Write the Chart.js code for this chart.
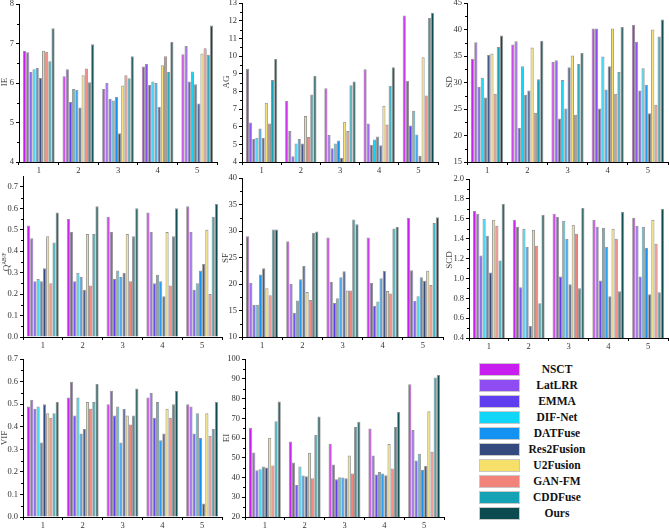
<!DOCTYPE html>
<html>
<head>
<meta charset="utf-8">
<script src="https://cdn.jsdelivr.net/npm/chart.js@4.4.0/dist/chart.umd.min.js"></script>
<style>
  body { margin: 0; background: #fff; width: 669px; height: 529px; position: relative; overflow: hidden; font-family: 'Liberation Serif', serif; }
  .panel { position: absolute; }
  .ytitle { position: absolute; width: 80px; height: 10px; line-height: 10px; text-align: center;
            font-size: 9px; color: #444; white-space: nowrap; transform: translate(-50%, -50%) rotate(-90deg); }
  .ytitle sup { font-size: 5.5px; vertical-align: 3px; }
  #legend { position: absolute; left: 479px; top: 361px; }
  .row { display: flex; align-items: center; height: 16px; }
  .sw { width: 41px; height: 13px; border: 1px solid #c8c8c8; box-sizing: border-box; }
  .lab { width: 74px; text-align: center; font-weight: bold; font-size: 11.5px; color: #111; }
</style>
</head>
<body>
<div id="legend"></div>
<script>
// methods and colours
const methods = ['NSCT', 'LatLRR', 'EMMA', 'DIF-Net', 'DATFuse', 'Res2Fusion', 'U2Fusion', 'GAN-FM', 'CDDFuse', 'Ours'];
const colors = ['#C81EF0', '#8E4CF2', '#5F3EF0', '#12D6F8', '#1492F2', '#34497E', '#F7E06A', '#F2837A', '#14A2B4', '#0B4A4E'];
const groups = ['1', '2', '3', '4', '5'];

// values per group (one row per group, one value per method)
const ieVals = [
  [6.81, 6.78, 6.28, 6.35, 6.38, 6.13, 6.82, 6.79, 6.55, 7.39],
  [6.17, 6.35, 5.52, 5.85, 5.83, 5.38, 6.20, 6.37, 6.02, 6.98],
  [5.85, 6.00, 5.60, 5.56, 5.65, 4.73, 5.94, 6.20, 6.12, 6.68],
  [6.42, 6.48, 5.95, 6.04, 6.00, 5.40, 6.45, 6.68, 6.28, 7.04],
  [6.73, 6.94, 6.04, 6.29, 5.97, 5.48, 6.75, 6.88, 6.72, 7.46]
];
const agVals = [
  [9.28, 6.24, 5.30, 5.38, 5.90, 5.37, 7.36, 6.18, 8.64, 9.84],
  [7.45, 5.75, 4.33, 5.05, 5.30, 5.05, 6.60, 5.42, 7.82, 8.87],
  [8.18, 5.53, 4.78, 5.05, 5.22, 4.24, 6.28, 5.75, 8.35, 8.56],
  [9.26, 6.18, 4.97, 5.27, 5.45, 4.95, 7.18, 6.12, 8.32, 9.37],
  [12.30, 8.60, 6.07, 6.90, 5.56, 4.35, 9.93, 7.76, 12.15, 12.45]
];
const sdVals = [
  [34.5, 37.6, 29.2, 30.9, 27.2, 35.2, 35.5, 27.9, 36.7, 38.9],
  [37.2, 37.8, 21.4, 33.1, 27.7, 28.5, 36.6, 24.3, 30.6, 37.9],
  [33.9, 34.2, 23.2, 30.5, 25.1, 32.9, 35.1, 23.9, 33.5, 35.6],
  [40.2, 40.2, 25.1, 34.9, 28.7, 33.1, 40.2, 27.9, 32.0, 40.5],
  [40.9, 37.7, 28.5, 32.7, 29.6, 24.2, 40.0, 25.8, 38.7, 41.9]
];
const qVals = [
  [0.52, 0.46, 0.26, 0.27, 0.26, 0.32, 0.47, 0.25, 0.44, 0.58],
  [0.55, 0.49, 0.26, 0.30, 0.28, 0.22, 0.48, 0.24, 0.48, 0.61],
  [0.56, 0.49, 0.27, 0.31, 0.28, 0.30, 0.48, 0.26, 0.47, 0.60],
  [0.58, 0.49, 0.25, 0.29, 0.26, 0.19, 0.49, 0.24, 0.47, 0.60],
  [0.61, 0.49, 0.22, 0.25, 0.31, 0.34, 0.50, 0.20, 0.56, 0.62]
];
const sfVals = [
  [29.0, 20.2, 16.1, 16.1, 21.8, 23.0, 19.2, 17.9, 30.3, 30.3],
  [28.1, 20.0, 14.6, 16.9, 20.9, 23.4, 18.5, 17.0, 29.7, 29.9],
  [28.8, 20.4, 16.4, 17.3, 21.3, 22.4, 18.8, 18.8, 32.2, 31.3],
  [28.8, 20.2, 15.9, 16.7, 21.1, 22.5, 18.7, 18.2, 30.5, 30.8],
  [32.5, 22.6, 16.8, 17.7, 21.3, 20.6, 22.5, 19.8, 31.5, 32.6]
];
const scdVals = [
  [1.68, 1.65, 1.23, 1.60, 1.43, 1.06, 1.59, 1.53, 1.18, 1.75],
  [1.59, 1.52, 0.91, 1.50, 1.32, 0.52, 1.49, 1.33, 0.75, 1.64],
  [1.65, 1.62, 1.02, 1.58, 1.40, 0.94, 1.54, 1.45, 0.90, 1.71],
  [1.59, 1.52, 0.98, 1.51, 1.32, 0.82, 1.50, 1.40, 0.87, 1.67],
  [1.61, 1.53, 1.02, 1.52, 1.31, 0.84, 1.59, 1.35, 0.86, 1.70]
];
const vifVals = [
  [0.49, 0.52, 0.48, 0.49, 0.33, 0.50, 0.46, 0.44, 0.46, 0.51],
  [0.53, 0.60, 0.45, 0.53, 0.37, 0.39, 0.51, 0.48, 0.51, 0.59],
  [0.50, 0.56, 0.45, 0.49, 0.33, 0.48, 0.45, 0.41, 0.45, 0.57],
  [0.53, 0.55, 0.44, 0.51, 0.34, 0.37, 0.48, 0.44, 0.50, 0.56],
  [0.50, 0.49, 0.37, 0.46, 0.35, 0.06, 0.46, 0.36, 0.39, 0.51]
];
const eiVals = [
  [65.2, 52.7, 43.7, 44.2, 45.6, 45.1, 60.1, 46.1, 68.5, 78.5],
  [58.3, 47.6, 36.2, 45.6, 41.0, 40.6, 52.6, 39.6, 61.7, 70.9],
  [57.1, 46.6, 39.1, 40.1, 40.0, 39.6, 51.1, 42.1, 65.6, 68.2],
  [64.9, 51.1, 41.5, 42.8, 42.1, 41.1, 57.0, 44.6, 65.6, 73.2],
  [87.2, 64.1, 48.6, 52.0, 43.9, 45.9, 73.6, 53.1, 90.7, 91.9]
];

// panel layout: box = plot area [left, top, right, bottom], t = title centre
const panels = [
  { title: 'IE', vals: ieVals, min: 4, max: 8, step: 1, dec: 0, box: [19, 3, 217, 162], t: [4, 82] },
  { title: 'AG', vals: agVals, min: 4, max: 13, step: 1, dec: 0, box: [242, 2, 438, 162], t: [226, 82] },
  { title: 'SD', vals: sdVals, min: 15, max: 45, step: 5, dec: 0, box: [467, 2, 668, 162], t: [449, 82] },
  { title: 'Q<sup>AB/F</sup>', vals: qVals, min: 0, max: 0.75, step: 0.1, dec: 1, box: [23, 175, 222, 337], t: [4, 262] },
  { title: 'SF', vals: sfVals, min: 10, max: 40, step: 5, dec: 0, box: [242, 177, 443, 337], t: [225, 258] },
  { title: 'SCD', vals: scdVals, min: 0.4, max: 2.0, step: 0.1, dec: 1, box: [469, 178, 668, 338], t: [449, 260] },
  { title: 'VIF', vals: vifVals, min: 0, max: 0.7, step: 0.1, dec: 1, box: [23, 358, 222, 517], t: [4, 438] },
  { title: 'EI', vals: eiVals, min: 20, max: 100, step: 10, dec: 0, box: [245, 358, 444, 517], t: [226, 438] }
];

const YW = 24, XH = 14, PT = 6, PR = 2;
const tickFont = { family: 'Liberation Serif', size: 8.5 };

// small minor ticks half way between the major ticks
const minorTicks = {
  id: 'minorTicks',
  afterDraw(chart) {
    const y = chart.scales.y;
    const t = y.ticks;
    const ctx = chart.ctx;
    ctx.save();
    ctx.strokeStyle = '#000';
    ctx.lineWidth = 1;
    for (let i = 0; i < t.length - 1; i++) {
      const py = Math.round(y.getPixelForValue((t[i].value + t[i + 1].value) / 2)) + 0.5;
      ctx.beginPath();
      ctx.moveTo(y.right - 2, py);
      ctx.lineTo(y.right, py);
      ctx.stroke();
    }
    ctx.restore();
  }
};

panels.forEach(p => {
  const [l, t, r, b] = p.box;
  const W = r - l + YW + PR, H = b - t + PT + XH;
  const div = document.createElement('div');
  div.className = 'panel';
  div.style.left = (l - YW) + 'px';
  div.style.top = (t - PT) + 'px';
  const cv = document.createElement('canvas');
  cv.width = W; cv.height = H;
  cv.style.width = W + 'px'; cv.style.height = H + 'px';
  div.appendChild(cv);
  document.body.appendChild(div);

  const tt = document.createElement('div');
  tt.className = 'ytitle';
  tt.innerHTML = p.title;
  tt.style.left = p.t[0] + 'px';
  tt.style.top = p.t[1] + 'px';
  document.body.appendChild(tt);

  new Chart(cv, {
    type: 'bar',
    data: {
      labels: groups,
      datasets: methods.map((m, i) => ({
        label: m,
        data: p.vals.map(g => g[i]),
        backgroundColor: colors[i],
        borderColor: 'rgba(120,120,120,0.8)',
        borderWidth: 1,
        categoryPercentage: 0.8,
        barPercentage: 1
      }))
    },
    options: {
      responsive: false,
      animation: false,
      events: [],
      layout: { padding: { top: PT, right: PR, left: 0, bottom: 0 } },
      plugins: { legend: { display: false }, tooltip: { enabled: false } },
      scales: {
        x: {
          offset: true,
          grid: { drawOnChartArea: false, tickLength: 3, color: '#000', offset: true },
          border: { color: '#000', width: 1 },
          ticks: { font: tickFont, color: '#333', padding: 1, maxRotation: 0 },
          afterFit: s => { s.height = XH; }
        },
        y: {
          min: p.min,
          max: p.max,
          grid: { drawOnChartArea: false, tickLength: 3, color: '#000' },
          border: { color: '#000', width: 1 },
          ticks: {
            stepSize: p.step,
            font: tickFont,
            color: '#333',
            padding: 2,
            callback: v => Number(v).toFixed(p.dec)
          },
          afterBuildTicks: s => {
            s.ticks = s.ticks.filter(k => Math.abs(k.value / p.step - Math.round(k.value / p.step)) < 1e-6);
          },
          afterFit: s => { s.width = YW; }
        }
      }
    },
    plugins: [minorTicks]
  });
});

// legend
const legend = document.getElementById('legend');
methods.forEach((m, i) => {
  const row = document.createElement('div');
  row.className = 'row';
  row.innerHTML = '<div class="sw" style="background:' + colors[i] + '"></div><div class="lab">' + m + '</div>';
  legend.appendChild(row);
});
</script>
</body>
</html>
